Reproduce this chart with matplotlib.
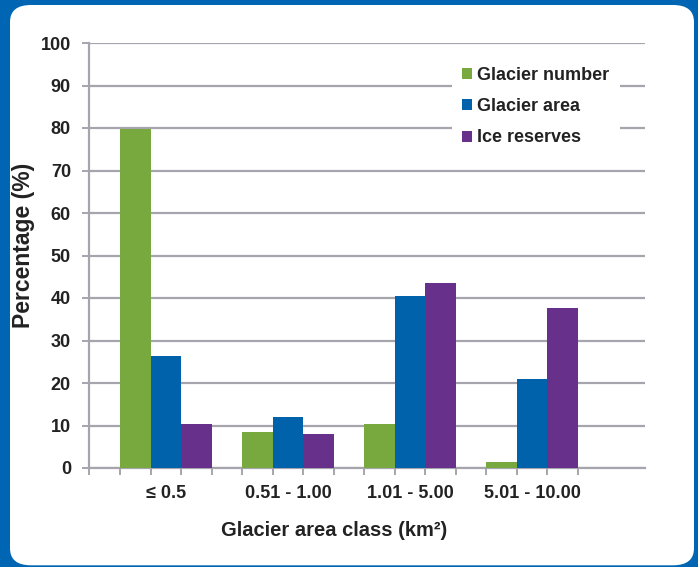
import matplotlib.pyplot as plt
from matplotlib.patches import FancyBboxPatch
import numpy as np

# Area classes (km2) and share of each quantity per class
classes = ['≤ 0.5', '0.51 - 1.00', '1.01 - 5.00', '5.01 - 10.00']
glacier_number = [79.7, 8.5, 10.3, 1.4]
glacier_area = [26.4, 11.9, 40.5, 21.0]
ice_reserves = [10.4, 7.9, 43.6, 37.6]

series = [
    ('Glacier number', glacier_number, '#78a93f'),
    ('Glacier area', glacier_area, '#0062ab'),
    ('Ice reserves', ice_reserves, '#66308b'),
]

plt.rcParams['font.family'] = ['Liberation Sans', 'DejaVu Sans']
plt.rcParams['font.weight'] = 'bold'
txt = '#222222'
grid_col = '#a6a5ad'

fig = plt.figure(figsize=(6.98, 5.67), dpi=100)
fig.patch.set_facecolor('#0066b3')

# white rounded panel behind the chart
panel = FancyBboxPatch((10 / 698, 0.003), 684 / 698, 1 - 5 / 567 - 0.003,
                       boxstyle='round,pad=0,rounding_size=0.03',
                       transform=fig.transFigure, facecolor='white',
                       edgecolor='none', zorder=-5)
fig.add_artist(panel)

ax = fig.add_axes([89 / 698, 1 - 468 / 567, 556 / 698, 425 / 567])
ax.set_facecolor('none')
ax.set_zorder(2)

x = np.arange(len(classes))
w = 0.25
for k, (name, vals, col) in enumerate(series):
    ax.bar(x + (k - 1) * w, vals, width=w, color=col, label=name, zorder=3)

ax.set_xlim(-0.631, 3.926)
ax.set_ylim(0, 100)
ax.set_yticks(np.arange(0, 101, 10))
ax.yaxis.grid(True, color=grid_col, linewidth=1.6, zorder=1)
ax.set_axisbelow(True)

for s in ['top', 'right']:
    ax.spines[s].set_visible(False)
for s in ['left', 'bottom']:
    ax.spines[s].set_color(grid_col)
    ax.spines[s].set_linewidth(1.6)

# tick marks at every bar edge along the category axis
edges = [ax.get_xlim()[0]]
for i in x:
    edges += list(i + np.array([-1.5, -0.5, 0.5, 1.5]) * w)
ax.set_xticks(edges, minor=True)
ax.set_xticks(x)
ax.set_xticklabels(classes, fontsize=13, color=txt)
ax.tick_params(axis='x', which='major', length=0, pad=12)
ax.tick_params(axis='x', which='minor', length=5, width=1.4, color=grid_col)
ax.tick_params(axis='y', length=5, width=1.4, color=grid_col,
               labelsize=13, labelcolor=txt, pad=8)

ax.set_xlabel('Glacier area class (km²)', fontsize=14.5, fontweight='bold',
              color=txt, va='center')
ax.xaxis.set_label_coords((334 - 89) / 556, (468 - 530) / 425)
ax.set_ylabel('Percentage (%)', fontsize=16.5, fontweight='bold', color=txt,
              va='center')
ax.yaxis.set_label_coords((24 - 89) / 556, (468 - 245) / 425)

leg = ax.legend(loc='upper left', bbox_to_anchor=(0.652, 0.97), fontsize=13,
                frameon=True, fancybox=False, handlelength=0.55,
                handleheight=0.55, handletextpad=0.25, labelspacing=0.8,
                borderpad=0.6, borderaxespad=0)
leg.get_frame().set_facecolor('white')
leg.get_frame().set_edgecolor('none')
leg.get_frame().set_alpha(1)
for t in leg.get_texts():
    t.set_color(txt)

fig.savefig('out.png', dpi=100, facecolor=fig.get_facecolor())
